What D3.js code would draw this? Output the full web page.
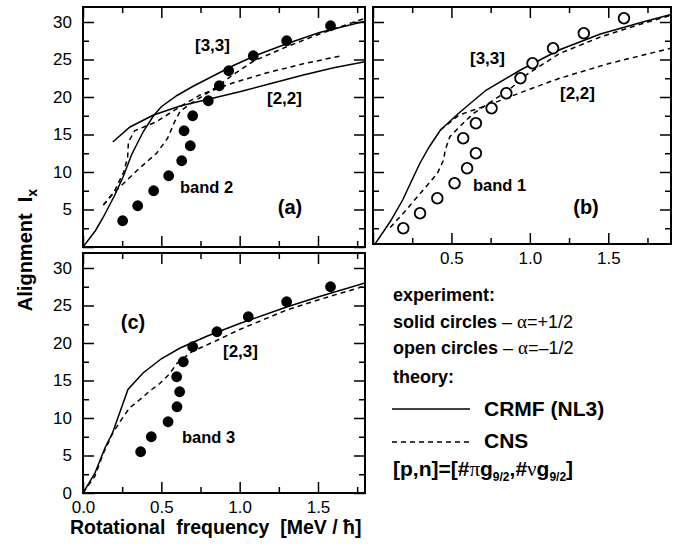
<!DOCTYPE html>
<html>
<head>
<meta charset="utf-8">
<script src="https://cdn.jsdelivr.net/npm/d3@7"></script>
<style>
body { margin: 0; background: #fff; }
text { font-family: "Liberation Sans", Arial, Helvetica, sans-serif; fill: #000; }
.tick text { font-size: 17px; font-family: "Liberation Sans", Arial, sans-serif; }
.tick line { stroke: #000; stroke-width: 1.5; }
.bold { font-weight: bold; }
.greek { font-family: "Liberation Serif", "Times New Roman", serif; font-weight: normal; }
.curve { fill: none; stroke: #000; stroke-width: 1.5; }
.dash { stroke-dasharray: 5,4; }
</style>
</head>
<body>
<svg id="fig" width="673" height="544"></svg>
<script>
// tick values
var xMajor = [0, 0.5, 1.0, 1.5];
var xMinor = [0.25, 0.75, 1.25, 1.75];
var yMajor = [0, 5, 10, 15, 20, 25, 30];
var yMinor = [2.5, 7.5, 12.5, 17.5, 22.5, 27.5];

// experiment: [omega, Ix]
var band2 = [[0.253,3.5],[0.349,5.5],[0.451,7.5],[0.547,9.5],[0.63,11.5],[0.685,13.5],[0.645,15.5],
             [0.70,17.5],[0.80,19.5],[0.87,21.5],[0.93,23.5],[1.087,25.5],[1.30,27.5],[1.58,29.5]];
var band1 = [[0.193,2.5],[0.30,4.5],[0.41,6.5],[0.52,8.5],[0.60,10.5],[0.656,12.5],[0.575,14.5],
             [0.656,16.5],[0.756,18.5],[0.85,20.5],[0.94,22.5],[1.017,24.5],[1.148,26.5],[1.344,28.5],[1.60,30.5]];
var band3 = [[0.368,5.5],[0.436,7.5],[0.543,9.5],[0.60,11.5],[0.617,13.5],[0.598,15.5],[0.64,17.5],
             [0.70,19.5],[0.855,21.5],[1.055,23.5],[1.30,25.5],[1.58,27.5]];

// theory, panel (a)
var crmf33a = [[0,0],[0.08,2.2],[0.13,4.0],[0.2,6.8],[0.255,9.3],[0.31,12.3],[0.385,15.4],[0.45,17.5],
               [0.5,18.7],[0.6,20.2],[0.7,21.4],[0.83,22.8],[0.96,24.2],[1.11,25.6],[1.3,27.1],[1.51,28.6],[1.8,30.1]];
var crmf22a = [[0.19,14.0],[0.3,16.0],[0.45,17.6],[0.62,18.8],[0.8,19.7],[1.0,20.7],[1.2,21.8],
               [1.4,22.9],[1.6,23.9],[1.8,24.7]];
var cns22a = [[0.13,5.6],[0.2,7.4],[0.26,10.0],[0.285,12.0],[0.29,14.0],[0.33,15.5],[0.4,16.1],[0.47,16.7],
              [0.55,17.8],[0.62,18.7],[0.75,20.3],[0.96,21.9],[1.17,23.2],[1.4,24.4],[1.65,25.5]];
var cns33a = [[0.13,5.6],[0.2,7.3],[0.28,8.9],[0.36,10.5],[0.47,12.5],[0.54,14.5],[0.585,16.7],[0.62,18.1],
              [0.7,19.3],[0.8,20.6],[0.87,21.6],[0.96,23.0],[1.09,24.8],[1.3,26.7],[1.51,28.4],[1.8,30.5]];

// theory, panel (b)
var crmf33b = [[0,0],[0.11,3.4],[0.19,6.3],[0.25,9.0],[0.3,11.2],[0.36,13.4],[0.43,15.6],[0.55,17.9],
               [0.72,20.9],[0.94,23.6],[1.19,26.3],[1.45,28.4],[1.72,30.0],[1.9,31.0]];
var cns33b = [[0.11,2.6],[0.21,4.9],[0.32,7.6],[0.41,9.8],[0.45,11.6],[0.46,12.9],[0.49,14.7],[0.55,16.0],
              [0.64,17.8],[0.77,19.6],[0.87,21.0],[0.98,23.0],[1.19,25.8],[1.45,28.0],[1.72,29.8],[1.9,30.9]];
var cns22b = [[0.43,15.6],[0.55,17.6],[0.77,19.2],[0.98,20.9],[1.19,22.5],[1.51,24.5],[1.9,26.5]];

// theory, panel (c)
var crmf23c = [[0,0],[0.075,2.6],[0.14,6.0],[0.19,8.1],[0.287,13.8],[0.383,16.0],[0.5,17.9],[0.617,19.3],
               [0.79,20.9],[1.0,22.6],[1.3,24.8],[1.51,26.2],[1.8,28.0]];
var cns23c = [[0,0],[0.075,2.2],[0.128,5.2],[0.19,8.0],[0.255,10.1],[0.3,11.4],[0.36,12.4],[0.426,13.6],
              [0.49,14.6],[0.553,15.9],[0.6,17.3],[0.7,18.9],[0.85,20.3],[1.0,21.8],[1.3,24.4],[1.51,25.8],[1.8,27.6]];

var svg = d3.select("#fig");

// panel boxes (pixels) and the Ix range shown in each
var panels = {
  a: {x0: 83, x1: 365, y0: 7, y1: 247, xMax: 1.8, yMin: 0},
  b: {x0: 373, x1: 671, y0: 7, y1: 244, xMax: 1.9, yMin: 0.4},
  c: {x0: 83, x1: 365, y0: 253, y1: 493, xMax: 1.8, yMin: 0}
};

function makePanel(id, p, yLabels, xLabels) {
  var w = p.x1 - p.x0, h = p.y1 - p.y0;
  var g = svg.append("g").attr("transform", "translate(" + p.x0 + "," + p.y0 + ")");
  var x = d3.scaleLinear().domain([0, p.xMax]).range([0, w]);
  var y = d3.scaleLinear().domain([p.yMin, 32]).range([h, 0]);

  g.append("clipPath").attr("id", "clip-" + id)
    .append("rect").attr("width", w).attr("height", h);

  var fmtX = function(d) { return xLabels.indexOf(d) >= 0 ? d3.format(".1f")(d) : ""; };
  var fmtY = function(d) { return yLabels.indexOf(d) >= 0 ? d : ""; };

  // major + minor ticks on all four sides, pointing inward
  [[xMajor, 11], [xMinor, 6]].forEach(function(t) {
    g.append("g").attr("transform", "translate(0," + h + ")")
      .call(d3.axisBottom(x).tickValues(t[0]).tickSize(-t[1]).tickPadding(8)
        .tickFormat(t[1] > 8 ? fmtX : ""));
    g.append("g").call(d3.axisTop(x).tickValues(t[0]).tickSize(-t[1]).tickFormat(""));
  });
  [[yMajor, 11], [yMinor, 6]].forEach(function(t) {
    var vals = t[0].filter(function(v) { return v >= p.yMin; });
    g.append("g")
      .call(d3.axisLeft(y).tickValues(vals).tickSize(-t[1]).tickPadding(11)
        .tickFormat(t[1] > 8 ? fmtY : ""));
    g.append("g").attr("transform", "translate(" + w + ",0)")
      .call(d3.axisRight(y).tickValues(vals).tickSize(-t[1]).tickFormat(""));
  });
  g.selectAll(".domain").remove();
  g.selectAll(".tick text").attr("fill", "#000");

  g.append("rect").attr("width", w).attr("height", h)
    .attr("fill", "none").attr("stroke", "#000").attr("stroke-width", 2);

  return {id: id, g: g, x: x, y: y};
}

function addCurve(P, data, dashed) {
  var line = d3.line().x(function(d) { return P.x(d[0]); }).y(function(d) { return P.y(d[1]); });
  P.g.append("path").datum(data)
    .attr("class", "curve" + (dashed ? " dash" : ""))
    .attr("clip-path", "url(#clip-" + P.id + ")")
    .attr("d", line);
}

function addPoints(P, data, open) {
  P.g.selectAll(null).data(data).enter().append("circle")
    .attr("cx", function(d) { return P.x(d[0]); })
    .attr("cy", function(d) { return P.y(d[1]); })
    .attr("r", open ? 5.3 : 5.4)
    .attr("fill", open ? "#fff" : "#000")
    .attr("stroke", "#000")
    .attr("stroke-width", open ? 1.8 : 0);
}

var A = makePanel("a", panels.a, [5, 10, 15, 20, 25, 30], []);
var B = makePanel("b", panels.b, [], [0.5, 1.0, 1.5]);
var C = makePanel("c", panels.c, [0, 5, 10, 15, 20, 25, 30], [0, 0.5, 1.0, 1.5]);

addCurve(A, crmf33a, false);
addCurve(A, crmf22a, false);
addCurve(A, cns22a, true);
addCurve(A, cns33a, true);
addPoints(A, band2, false);

addCurve(B, crmf33b, false);
addCurve(B, cns33b, true);
addCurve(B, cns22b, true);
addPoints(B, band1, true);

addCurve(C, crmf23c, false);
addCurve(C, cns23c, true);
addPoints(C, band3, false);

// annotations
function label(txt, x, y, size, anchor) {
  return svg.append("text").attr("class", "bold").attr("x", x).attr("y", y)
    .attr("font-size", size).attr("text-anchor", anchor || "start").text(txt);
}
label("[3,3]", 195, 51, 17);
label("[2,2]", 267, 104, 17);
label("band 2", 180, 193, 16.5);
label("(a)", 290, 214, 20, "middle");

label("[3,3]", 470, 64, 17);
label("[2,2]", 560, 99, 17);
label("band 1", 473, 191, 16.5);
label("(b)", 586, 214, 20, "middle");

label("[2,3]", 223, 357, 17);
label("band 3", 182, 443, 16.5);
label("(c)", 133, 329, 20, "middle");

// axis titles
var yt = svg.append("text").attr("class", "bold").attr("font-size", 20)
  .attr("text-anchor", "middle")
  .attr("transform", "translate(32,250) rotate(-90)");
yt.append("tspan").text("Alignment\u00a0\u00a0I");
yt.append("tspan").attr("font-size", 14).attr("dy", 5).text("x");

svg.append("text").attr("class", "bold").attr("font-size", 19.5)
  .attr("x", 70).attr("y", 534)
  .text("Rotational\u00a0\u00a0frequency\u00a0\u00a0[MeV / \u0127]");

// legend
label("experiment:", 393, 301, 18);
var s1 = svg.append("text").attr("x", 393).attr("y", 328).attr("font-size", 18);
s1.append("tspan").attr("class", "bold").text("solid circles");
s1.append("tspan").text(" \u2013 ");
s1.append("tspan").attr("class", "greek").attr("font-size", 19).text("\u03b1");
s1.append("tspan").text("=+1/2");
var s2 = svg.append("text").attr("x", 393).attr("y", 354).attr("font-size", 18);
s2.append("tspan").attr("class", "bold").text("open circles");
s2.append("tspan").text(" \u2013 ");
s2.append("tspan").attr("class", "greek").attr("font-size", 19).text("\u03b1");
s2.append("tspan").text("=\u20131/2");
label("theory:", 393, 383, 18);

svg.append("line").attr("x1", 392).attr("x2", 470).attr("y1", 409).attr("y2", 409)
  .attr("stroke", "#000").attr("stroke-width", 1.5);
label("CRMF (NL3)", 484, 416, 21);
svg.append("line").attr("x1", 392).attr("x2", 470).attr("y1", 442).attr("y2", 442)
  .attr("stroke", "#000").attr("stroke-width", 1.5).attr("stroke-dasharray", "5,4");
label("CNS", 484, 448, 21);

var pn = svg.append("text").attr("class", "bold").attr("x", 393).attr("y", 476).attr("font-size", 21);
pn.append("tspan").text("[p,n]=[#");
pn.append("tspan").attr("class", "greek").text("\u03c0");
pn.append("tspan").text("g");
pn.append("tspan").attr("font-size", 12).attr("dy", 5).text("9/2");
pn.append("tspan").attr("dy", -5).text(",#");
pn.append("tspan").attr("class", "greek").text("\u03bd");
pn.append("tspan").text("g");
pn.append("tspan").attr("font-size", 12).attr("dy", 5).text("9/2");
pn.append("tspan").attr("dy", -5).text("]");
</script>
</body>
</html>
